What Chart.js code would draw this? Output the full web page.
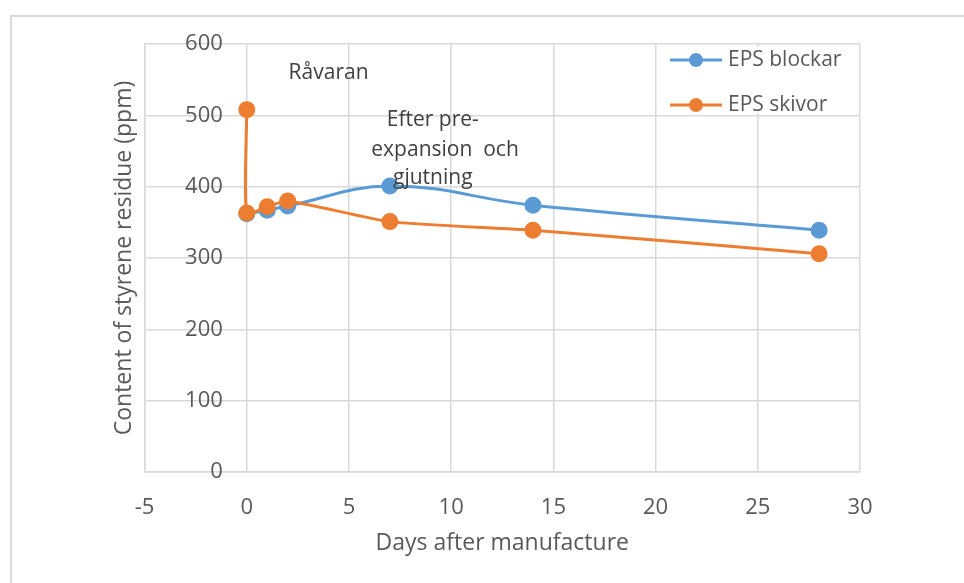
<!DOCTYPE html>
<html lang="sv">
<head>
<meta charset="UTF-8">
<title>Styrenrest EPS</title>
<script src="https://cdn.jsdelivr.net/npm/chart.js"></script>
<style>
  body { margin: 0; background: #fff; }
  #frame { position: absolute; left: 10px; top: 15px; width: 1000px; height: 620px; border: 2px solid #d9d9d9; }
  #wrap { position: absolute; left: 0; top: 0; width: 964px; height: 583px; }
</style>
</head>
<body>
<div id="frame"></div>
<div id="wrap"><canvas id="c" width="964" height="583"></canvas></div>
<script>
// dagar efter tillverkning / halt styrenrest (ppm)
const blockDays = [0, 1, 2, 7, 14, 28];
const blockPpm = [362, 367, 373, 401, 374, 339];
const skivDays = [0, 0, 1, 2, 7, 14, 28];
const skivPpm = [508, 363, 372, 380, 351, 339, 306];
const yTicks = [0, 100, 200, 300, 400, 500, 600];
const seriesNames = ['EPS blockar', 'EPS skivor'];

const BLUE = '#5b9bd5', ORANGE = '#ed7d31', GRID = '#d9d9d9', TXT = '#595959';
const FONT = '"Open Sans", sans-serif';

function pts(xs, ys) { return xs.map((x, i) => ({ x: x, y: ys[i] })); }

// y-etiketter sitter vid x=0 (axeln korsar där)
const yLabels = {
  id: 'yLabels',
  afterDraw(chart) {
    const ctx = chart.ctx, xs = chart.scales.x, ys = chart.scales.y;
    const x0 = xs.getPixelForValue(0) - 24;
    ctx.save();
    ctx.font = '22px ' + FONT;
    ctx.fillStyle = TXT;
    ctx.textAlign = 'right';
    ctx.textBaseline = 'middle';
    yTicks.forEach(v => ctx.fillText(String(v), x0, ys.getPixelForValue(v)));
    ctx.restore();
  }
};

// textrutor i diagrammet
const notes = {
  id: 'notes',
  afterDraw(chart) {
    const ctx = chart.ctx, xs = chart.scales.x, ys = chart.scales.y;
    ctx.save();
    ctx.font = '21px ' + FONT;
    ctx.fillStyle = '#404040';
    ctx.textAlign = 'center';
    ctx.textBaseline = 'middle';
    ctx.fillText('Råvaran', xs.getPixelForValue(4), ys.getPixelForValue(560));
    ctx.fillText('Efter pre-', xs.getPixelForValue(9.1), ys.getPixelForValue(494));
    ctx.fillText('expansion  och', xs.getPixelForValue(9.7), ys.getPixelForValue(452));
    ctx.fillText('gjutning', xs.getPixelForValue(9.1), ys.getPixelForValue(412));
    ctx.restore();
  }
};

// förklaring inne i ritytan, uppe till höger
const legendBox = {
  id: 'legendBox',
  afterDraw(chart) {
    const ctx = chart.ctx, a = chart.chartArea;
    const colors = [BLUE, ORANGE];
    const left = a.right - 190;
    ctx.save();
    ctx.fillStyle = '#fff';
    ctx.fillRect(left - 8, a.top + 3, 192, 66);
    ctx.font = '21px ' + FONT;
    ctx.textBaseline = 'middle';
    seriesNames.forEach((name, i) => {
      const y = a.top + 16 + i * 45;
      ctx.strokeStyle = colors[i];
      ctx.lineWidth = 3;
      ctx.beginPath();
      ctx.moveTo(left, y);
      ctx.lineTo(left + 52, y);
      ctx.stroke();
      ctx.fillStyle = colors[i];
      ctx.beginPath();
      ctx.arc(left + 26, y, 7, 0, Math.PI * 2);
      ctx.fill();
      ctx.fillStyle = TXT;
      ctx.fillText(name, left + 58, y);
    });
    ctx.restore();
  }
};

new Chart(document.getElementById('c'), {
  type: 'scatter',
  data: {
    datasets: [
      {
        label: seriesNames[0],
        data: pts(blockDays, blockPpm),
        showLine: true,
        tension: 0.4,
        borderColor: BLUE,
        backgroundColor: BLUE,
        borderWidth: 3,
        pointRadius: 7,
        order: 1
      },
      {
        label: seriesNames[1],
        data: pts(skivDays, skivPpm),
        showLine: true,
        tension: 0.2,
        borderColor: ORANGE,
        backgroundColor: ORANGE,
        borderWidth: 3,
        pointRadius: 7,
        order: 0
      }
    ]
  },
  options: {
    responsive: false,
    animation: false,
    layout: { padding: { left: 111, right: 104, top: 44, bottom: 22 } },
    plugins: { legend: { display: false }, tooltip: { enabled: false } },
    scales: {
      x: {
        type: 'linear',
        min: -5,
        max: 30,
        ticks: { stepSize: 5, padding: 23, color: TXT, font: { family: FONT, size: 22 } },
        grid: { color: GRID, drawTicks: false, lineWidth: 1.5 },
        border: { color: GRID, width: 1.5 },
        title: {
          display: true,
          text: 'Days after manufacture',
          color: TXT,
          font: { family: FONT, size: 23 },
          padding: { top: -15, bottom: 4 }
        }
      },
      y: {
        min: 0,
        max: 600,
        ticks: { display: false, stepSize: 100 },
        grid: { color: GRID, drawTicks: false, lineWidth: 1.5 },
        border: { color: GRID, width: 1.5 },
        title: {
          display: true,
          text: 'Content of styrene residue (ppm)',
          color: TXT,
          font: { family: FONT, size: 23 },
          padding: { top: 0, bottom: 6 }
        }
      }
    }
  },
  plugins: [yLabels, notes, legendBox]
});
</script>
</body>
</html>
